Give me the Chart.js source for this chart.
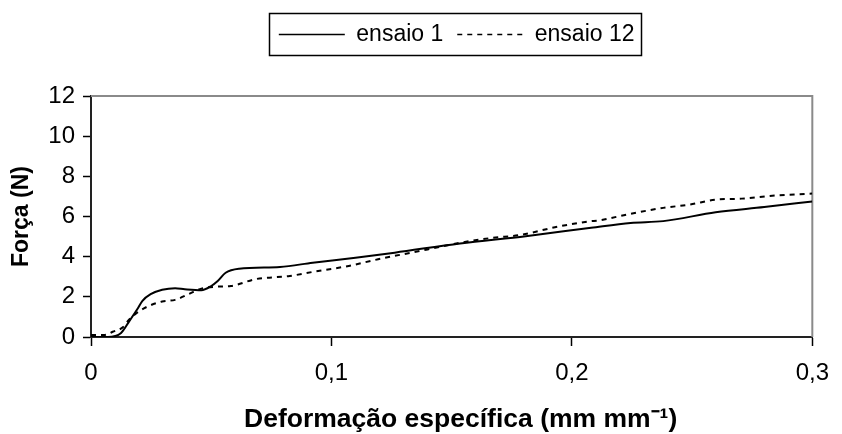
<!DOCTYPE html>
<html><head><meta charset="utf-8">
<script src="https://cdn.jsdelivr.net/npm/chart.js@4/dist/chart.umd.min.js"></script>
<style>html,body{margin:0;padding:0;background:#fff}#wrap{width:842px;height:434px}</style>
</head><body><div id="wrap"><canvas id="c" width="842" height="434"></canvas></div>
<script>
const seriesNames = ['ensaio 1', 'ensaio 12'];
const strain1 = [0, 0.007, 0.0125, 0.016, 0.0193, 0.0214, 0.0248, 0.0296, 0.035, 0.039, 0.0459, 0.05, 0.0527, 0.056, 0.0616, 0.0786, 0.0922, 0.11, 0.1263, 0.1535, 0.1808, 0.208, 0.2244, 0.238, 0.2598, 0.28, 0.3];
const force1 = [0, 0, 0.2, 0.8, 1.39, 1.8, 2.13, 2.35, 2.43, 2.38, 2.33, 2.54, 2.79, 3.2, 3.4, 3.49, 3.7, 3.95, 4.2, 4.66, 5.02, 5.44, 5.68, 5.77, 6.21, 6.47, 6.75];
const strain12 = [0, 0.0057, 0.009, 0.0132, 0.016, 0.0193, 0.0227, 0.0296, 0.035, 0.0405, 0.0459, 0.0527, 0.0582, 0.0684, 0.0827, 0.0922, 0.1072, 0.1194, 0.14, 0.1535, 0.1671, 0.178, 0.1944, 0.2067, 0.212, 0.223, 0.238, 0.2489, 0.2598, 0.2707, 0.2843, 0.3];
const force12 = [0.1, 0.1, 0.26, 0.48, 0.89, 1.22, 1.47, 1.77, 1.85, 2.13, 2.41, 2.51, 2.54, 2.88, 3.04, 3.24, 3.54, 3.87, 4.36, 4.69, 4.94, 5.07, 5.5, 5.75, 5.82, 6.1, 6.43, 6.59, 6.84, 6.89, 7.04, 7.14];
const xTicks = [0, 0.1, 0.2, 0.3];
const yTicks = [0, 2, 4, 6, 8, 10, 12];
const xTitle = 'Deformação específica (mm mm⁻¹)';
const yTitle = 'Força (N)';

const toPts = (xs, ys) => xs.map((x, i) => ({x: x, y: ys[i]}));
const FONT = "'Liberation Sans', Arial, sans-serif";
const LEGEND_DX = 5;
const XTITLE_DX = 9;

const shiftPlugin = {
  id: 'shifts',
  beforeInit(chart) {
    const lg = chart.legend;
    if (lg) {
      const origFit = lg.fit;
      lg.fit = function () { origFit.call(this); this.height = 87; };
      const origDraw = lg.draw;
      lg.draw = function () {
        const ctx = this.ctx;
        ctx.save(); ctx.translate(LEGEND_DX, 0); origDraw.call(this); ctx.restore();
      };
    }
  },
  afterUpdate(chart) {
    const sx = chart.scales.x;
    if (sx && !sx._titleShifted) {
      const origTitle = sx.drawTitle;
      sx.drawTitle = function () {
        const ctx = this.ctx;
        ctx.save(); ctx.translate(XTITLE_DX, 0); origTitle.call(this); ctx.restore();
      };
      sx._titleShifted = true;
    }
  }
};
const framePlugin = {
  id: 'frame',
  beforeDatasetsDraw(chart) {
    const {ctx, chartArea: a} = chart;
    ctx.save();
    ctx.strokeStyle = '#8a8a8a';
    ctx.lineWidth = 2;
    ctx.beginPath();
    ctx.moveTo(a.left, a.top);
    ctx.lineTo(a.right, a.top);
    ctx.lineTo(a.right, a.bottom);
    ctx.stroke();
    ctx.restore();
  },
  afterDraw(chart) {
    const lg = chart.legend;
    if (!lg || !lg.legendHitBoxes || !lg.legendHitBoxes.length) return;
    const hb = lg.legendHitBoxes;
    let l = Infinity, r = -Infinity, t = Infinity, b = -Infinity;
    hb.forEach(h => { l = Math.min(l, h.left); r = Math.max(r, h.left + h.width); t = Math.min(t, h.top); b = Math.max(b, h.top + h.height); });
    const ctx = chart.ctx;
    ctx.save();
    ctx.strokeStyle = '#000';
    ctx.lineWidth = 1.5;
    ctx.strokeRect(Math.round(l - 10 + LEGEND_DX) + 0.5, Math.round(t - 10) + 0.5, Math.round(r - l + 16), Math.round(b - t + 19));
    ctx.restore();
  }
};

new Chart(document.getElementById('c'), {
  type: 'line',
  data: {
    datasets: [
      {label: seriesNames[0], data: toPts(strain1, force1), borderColor: '#000', backgroundColor: '#000', borderWidth: 2, pointRadius: 0, cubicInterpolationMode: 'monotone', fill: false},
      {label: seriesNames[1], data: toPts(strain12, force12), borderColor: '#000', backgroundColor: '#000', borderWidth: 2, borderDash: [5, 5], pointRadius: 0, cubicInterpolationMode: 'monotone', fill: false}
    ]
  },
  options: {
    responsive: false,
    devicePixelRatio: 1,
    animation: false,
    layout: {padding: {top: 9, left: 0, right: 17, bottom: 0}},
    plugins: {
      tooltip: {enabled: false},
      legend: {
        position: 'top',
        fullSize: false,
        labels: {
          usePointStyle: true,
          pointStyle: 'line',
          pointStyleWidth: 66,
          boxHeight: 23,
          padding: 14,
          color: '#000',
          font: {family: FONT, size: 23},
          generateLabels: (chart) => {
            const items = Chart.defaults.plugins.legend.labels.generateLabels(chart);
            items.forEach(it => {
              const ds = chart.data.datasets[it.datasetIndex];
              it.lineDash = ds.borderDash || [];
              it.lineWidth = 1.5;
              it.strokeStyle = '#000';
              it.fillStyle = '#000';
            });
            return items;
          }
        }
      }
    },
    scales: {
      x: {
        type: 'linear',
        min: 0, max: 0.3,
        afterBuildTicks: s => { s.ticks = xTicks.map(v => ({value: v})); },
        afterFit: s => { s.height = 97; },
        ticks: {
          color: '#000', padding: 13, font: {family: FONT, size: 24},
          callback: v => (Math.abs(v) < 1e-9 ? '0' : (Math.round(v * 10) / 10).toString().replace('.', ','))
        },
        grid: {drawOnChartArea: false, drawTicks: true, tickLength: 9, tickColor: '#000', tickWidth: 1.5},
        border: {color: '#222', width: 2},
        title: {display: true, text: xTitle, color: '#000', font: {family: FONT, size: 26.5, weight: 'bold', lineHeight: 1.1}, padding: {top: 0, bottom: 0}}
      },
      y: {
        min: 0, max: 12,
        afterBuildTicks: s => { s.ticks = yTicks.map(v => ({value: v})); },
        afterFit: s => { s.width = 91; },
        ticks: {color: '#000', padding: 8, font: {family: FONT, size: 24}},
        grid: {drawOnChartArea: false, drawTicks: true, tickLength: 8, tickColor: '#000', tickWidth: 1.5},
        border: {color: '#222', width: 2},
        title: {display: true, text: yTitle, color: '#000', font: {family: FONT, size: 23, weight: 'bold'}, padding: {top: 8, bottom: 0}}
      }
    }
  },
  plugins: [shiftPlugin, framePlugin]
});
</script>
</body></html>
